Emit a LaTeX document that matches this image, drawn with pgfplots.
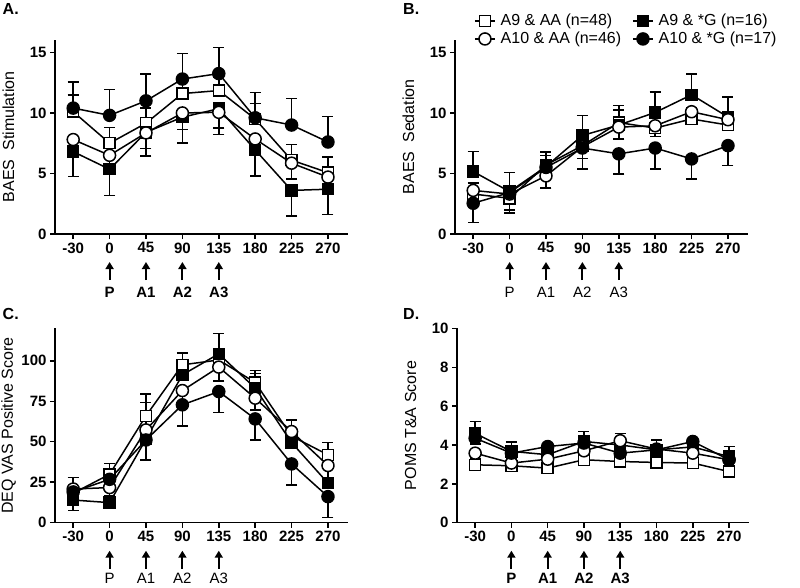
\documentclass[border=0pt]{standalone}
\usepackage{pgfplots}
\pgfplotsset{compat=1.18}
\usepackage{fontspec}
\setmainfont{Liberation Sans}
\usetikzlibrary{arrows.meta}

\newcommand\tickfont{\fontsize{15}{18}\selectfont\bfseries}
\newcommand\labfont{\fontsize{16}{19}\selectfont}

\pgfplotsset{
  panel/.style={
    scale only axis, width=293pt, height=194.3pt,
    axis x line*=bottom, axis y line*=left,
    xmin=-0.5, xmax=7.55, ymin=0,
    xtick={0,...,7}, xticklabels={-30,0,45,90,135,180,225,270},
    tick align=outside, major tick length=5pt,
    axis line style={line width=1.5pt, black},
    every tick/.style={line width=1.5pt, black},
    tick label style={font=\tickfont},
    /pgf/number format/assume math mode=true,
    ylabel style={font=\labfont, at={(axis description cs:0,0.5)}, rotate=0, yshift=46.5pt, anchor=center},
    clip=false,
  },
  ser/.style={black, line width=1.5pt,
    error bars/y explicit,
    error bars/error bar style={line width=1.5pt, black},
    error bars/error mark options={rotate=90, mark size=5.5pt, line width=1.5pt, black}},
  osq/.style={ser, mark=square*, mark size=5.5pt, mark options={fill=white, solid}},
  fsq/.style={ser, mark=square*, mark size=5.5pt, mark options={fill=black, solid}},
  ocirc/.style={ser, mark=*, mark size=6pt, mark options={fill=white, solid}},
  fcirc/.style={ser, mark=*, mark size=6pt, mark options={fill=black, solid}},
  up/.style={error bars/y dir=plus},
  dn/.style={error bars/y dir=minus},
}

\newcommand\doseArrows[2]{%
  \draw[line width=2pt, -{Triangle[length=7pt,width=8pt]}] ([yshift=-46pt]axis cs:1,0) -- ([yshift=-28pt]axis cs:1,0);
  \draw[line width=2pt, -{Triangle[length=7pt,width=8pt]}] ([yshift=-46pt]axis cs:2,0) -- ([yshift=-28pt]axis cs:2,0);
  \draw[line width=2pt, -{Triangle[length=7pt,width=8pt]}] ([yshift=-46pt]axis cs:3,0) -- ([yshift=-28pt]axis cs:3,0);
  \draw[line width=2pt, -{Triangle[length=7pt,width=8pt]}] ([yshift=-46pt]axis cs:4,0) -- ([yshift=-28pt]axis cs:4,0);
  \node[font=#1] at ([yshift=#2]axis cs:1,0) {P};
  \node[font=#1] at ([yshift=#2]axis cs:2,0) {A1};
  \node[font=#1] at ([yshift=#2]axis cs:3,0) {A2};
  \node[font=#1] at ([yshift=#2]axis cs:4,0) {A3};
}

\begin{document}
\begin{tikzpicture}

% Panel A
\begin{axis}[panel, at={(55pt,353pt)}, anchor=south west, ymax=16.05, ytick={0,5,10,15},
  ylabel={BAES\ \ Stimulation}]
\addplot[osq, up] table[x=x, y=y, y error plus=e, row sep=\\] {x y e\\ 0 10.1 1.4\\ 1 7.5 1.3\\ 2 9.15 1.25\\ 3 11.6 0.9\\ 4 11.85 1.1\\ 5 9.5 1.3\\ 6 6.1 1.3\\ 7 5.07 1.28\\};
\addplot[fsq, dn] table[x=x, y=y, y error minus=e, row sep=\\] {x y e\\ 0 6.8 2.05\\ 1 5.35 2.15\\ 2 8.4 1.95\\ 3 9.65 2.15\\ 4 10.35 2.15\\ 5 6.95 2.15\\ 6 3.6 2.1\\ 7 3.7 2.07\\};
\addplot[ocirc, dn] table[x=x, y=y, y error minus=e, row sep=\\] {x y e\\ 0 7.8 1.1\\ 1 6.5 1.1\\ 2 8.35 1.3\\ 3 10.0 1.35\\ 4 10.05 1.3\\ 5 7.85 1.2\\ 6 5.85 1.3\\ 7 4.7 1.0\\};
\addplot[fcirc, up] table[x=x, y=y, y error plus=e, row sep=\\] {x y e\\ 0 10.4 2.15\\ 1 9.8 2.15\\ 2 11.0 2.2\\ 3 12.8 2.1\\ 4 13.25 2.15\\ 5 9.6 2.1\\ 6 9.0 2.2\\ 7 7.6 2.1\\};
\doseArrows{\tickfont}{-58.5pt}
\end{axis}

% Panel B
\begin{axis}[panel, at={(455pt,353pt)}, anchor=south west, ymax=16.05, ytick={0,5,10,15},
  ylabel={BAES\ \ Sedation},
  legend columns=2, legend cell align=left,
  legend image code/.code={%
    \draw[#1, mark=none] (0pt,0pt) -- (20pt,0pt);
    \draw[#1] plot coordinates {(10pt,0pt)};},
  legend style={draw=none, fill=none,
    at={(axis description cs:0,1)}, anchor=south west, xshift=16pt, yshift=-10pt,
    font=\labfont, row sep=1pt,
    /tikz/every odd column/.append style={column sep=3pt},
    /tikz/every even column/.append style={column sep=9pt}}]
\addplot[osq, up] table[x=x, y=y, y error plus=e, row sep=\\] {x y e\\ 0 3.3 0.9\\ 1 2.95 0.95\\ 2 5.7 0.8\\ 3 7.3 1.0\\ 4 9.2 1.05\\ 5 8.75 1.0\\ 6 9.5 0.9\\ 7 9.0 1.0\\};
\addplot[fsq, up] table[x=x, y=y, y error plus=e, row sep=\\] {x y e\\ 0 5.16 1.65\\ 1 3.5 1.57\\ 2 5.57 1.2\\ 3 8.14 1.66\\ 4 9.0 1.6\\ 5 10.04 1.7\\ 6 11.5 1.7\\ 7 9.66 1.64\\};
\addplot[ocirc, dn] table[x=x, y=y, y error minus=e, row sep=\\] {x y e\\ 0 3.6 0.5\\ 1 3.3 1.3\\ 2 4.8 1.0\\ 3 7.2 0.95\\ 4 8.83 1.0\\ 5 8.94 0.9\\ 6 10.1 0.8\\ 7 9.44 0.8\\};
\addplot[fcirc, dn] table[x=x, y=y, y error minus=e, row sep=\\] {x y e\\ 0 2.54 1.6\\ 1 3.42 1.68\\ 2 5.5 1.72\\ 3 7.1 1.72\\ 4 6.62 1.68\\ 5 7.1 1.72\\ 6 6.2 1.65\\ 7 7.3 1.65\\};
\legend{A9 \& AA (n=48), A9 \& *G (n=16), A10 \& AA (n=46), A10 \& *G (n=17)}
\doseArrows{\fontsize{15}{18}\selectfont}{-58.5pt}
\end{axis}

% Panel C
\begin{axis}[panel, at={(55pt,64.3pt)}, anchor=south west, ymax=120, ytick={0,25,50,75,100},
  ylabel={DEQ VAS Positive Score}]
\addplot[osq, up] table[x=x, y=y, y error plus=e, row sep=\\] {x y e\\ 0 18.2 9.7\\ 1 29.9 6.8\\ 2 66.0 13.6\\ 3 97.5 7.3\\ 4 100.5 6\\ 5 86.6 7.4\\ 6 53.5 10\\ 7 41.9 7.6\\};
\addplot[fsq, up] table[x=x, y=y, y error plus=e, row sep=\\] {x y e\\ 0 14.0 5\\ 1 12.4 4\\ 2 51.6 22.7\\ 3 91.3 6\\ 4 104.3 12.4\\ 5 83.1 9.2\\ 6 49.5 6\\ 7 24.4 10\\};
\addplot[ocirc, dn] table[x=x, y=y, y error minus=e, row sep=\\] {x y e\\ 0 20.8 4\\ 1 21.7 8\\ 2 57.3 6\\ 3 81.6 8.5\\ 4 96.1 8.5\\ 5 76.9 7.2\\ 6 56.3 6\\ 7 35.3 10\\};
\addplot[fcirc, dn] table[x=x, y=y, y error minus=e, row sep=\\] {x y e\\ 0 19.0 11.6\\ 1 26.8 13\\ 2 51.1 12.3\\ 3 72.8 13\\ 4 81.0 13\\ 5 64.1 13\\ 6 36.3 13\\ 7 16.1 13\\};
\doseArrows{\fontsize{15}{18}\selectfont}{-55.5pt}
\end{axis}

% Panel D
\begin{axis}[panel, width=292pt, at={(457pt,64.3pt)}, anchor=south west, ymax=10, ytick={0,2,4,6,8,10},
  ylabel={POMS T\&A Score}]
\addplot[osq, dn] table[x=x, y=y, y error minus=e, row sep=\\] {x y e\\ 0 2.98 0.2\\ 1 2.93 0.2\\ 2 2.81 0.2\\ 3 3.24 0.2\\ 4 3.15 0.2\\ 5 3.1 0.2\\ 6 3.07 0.2\\ 7 2.63 0.2\\};
\addplot[fsq, up] table[x=x, y=y, y error plus=e, row sep=\\] {x y e\\ 0 4.6 0.6\\ 1 3.67 0.48\\ 2 3.5 0.4\\ 3 4.18 0.52\\ 4 4.0 0.6\\ 5 3.75 0.5\\ 6 3.9 0.4\\ 7 3.4 0.52\\};
\addplot[ocirc, dn] table[x=x, y=y, y error minus=e, row sep=\\] {x y e\\ 0 3.58 0.3\\ 1 3.07 0.3\\ 2 3.27 0.3\\ 3 3.7 0.3\\ 4 4.22 0.3\\ 5 3.79 0.3\\ 6 3.58 0.3\\ 7 3.24 0.3\\};
\addplot[fcirc, dn] table[x=x, y=y, y error minus=e, row sep=\\] {x y e\\ 0 4.35 0.3\\ 1 3.58 0.3\\ 2 3.92 0.3\\ 3 4.1 0.3\\ 4 3.58 0.3\\ 5 3.75 0.3\\ 6 4.18 0.3\\ 7 3.24 0.3\\};
\doseArrows{\tickfont}{-55.5pt}
\end{axis}

% Panel letters
\node[anchor=base west, font=\fontsize{16}{19}\selectfont\bfseries, inner sep=0pt] at (2.5pt,572pt) {A.};
\node[anchor=base west, font=\fontsize{16}{19}\selectfont\bfseries, inner sep=0pt] at (403pt,572pt) {B.};
\node[anchor=base west, font=\fontsize{16}{19}\selectfont\bfseries, inner sep=0pt] at (2.5pt,268pt) {C.};
\node[anchor=base west, font=\fontsize{16}{19}\selectfont\bfseries, inner sep=0pt] at (403pt,268pt) {D.};

\pgfresetboundingbox
\useasboundingbox (0pt,0pt) rectangle (800pt,587pt);
\end{tikzpicture}
\end{document}
